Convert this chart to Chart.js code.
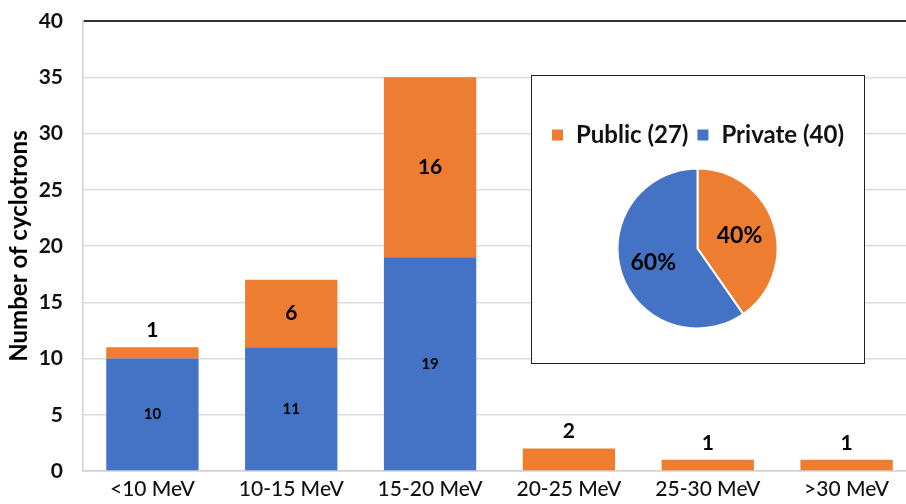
<!DOCTYPE html>
<html>
<head>
<meta charset="utf-8">
<script src="https://cdn.jsdelivr.net/npm/chart.js@4.4.1/dist/chart.umd.min.js"></script>
<style>
  html, body { margin: 0; padding: 0; background: #fff; overflow: hidden; width: 906px; height: 504px; }
  #wrap { position: absolute; left: 0; top: 0; width: 916px; height: 504px; }
  #pieBox { position: absolute; left: 531px; top: 75px; width: 334px; height: 289px; border: 1.5px solid #222; box-sizing: border-box; background: #fff; }
</style>
</head>
<body>
<div id="wrap"><canvas id="bar" width="916" height="504"></canvas></div>
<div id="pieBox"><canvas id="pie" width="331" height="286"></canvas></div>
<script>
const categories = ['<10 MeV', '10-15 MeV', '15-20 MeV', '20-25 MeV', '25-30 MeV', '>30 MeV'];
const privateValues = [10, 11, 19, 0, 0, 0];
const publicValues = [1, 6, 16, 2, 1, 1];
const yTicks = [0, 5, 10, 15, 20, 25, 30, 35, 40];
const pieLabels = ['Public (27)', 'Private (40)'];
const pieValues = [27, 40];
const piePercentLabels = ['40%', '60%'];

const BLUE = '#4472C4';
const ORANGE = '#ED7D31';
Chart.defaults.font.family = 'Lato, "Open Sans", sans-serif';
Chart.defaults.color = '#000';

const barLabelPlugin = {
  id: 'barLabels',
  afterDatasetsDraw(chart) {
    const ctx = chart.ctx;
    ctx.save();
    ctx.textAlign = 'center';
    ctx.textBaseline = 'middle';
    ctx.fillStyle = '#000';
    chart.data.datasets.forEach((ds, di) => {
      const meta = chart.getDatasetMeta(di);
      meta.data.forEach((el, i) => {
        const v = ds.data[i];
        if (!v) return;
        const top = Math.min(el.y, el.base);
        const bottom = Math.max(el.y, el.base);
        const h = bottom - top;
        ctx.font = (di === 0 ? 'bold 15px ' : 'bold 21px ') + Chart.defaults.font.family;
        let y = h > 30 ? (top + bottom) / 2 : top - 17;
        ctx.fillText(String(v), el.x, y);
      });
    });
    ctx.restore();
  }
};

new Chart(document.getElementById('bar'), {
  type: 'bar',
  data: {
    labels: categories,
    datasets: [
      { label: 'Private', data: privateValues, backgroundColor: BLUE, categoryPercentage: 1, barPercentage: 0.665 },
      { label: 'Public', data: publicValues, backgroundColor: ORANGE, categoryPercentage: 1, barPercentage: 0.665 }
    ]
  },
  options: {
    responsive: false,
    animation: false,
    devicePixelRatio: 1,
    layout: { padding: { top: 21, right: 0, left: 0, bottom: 0 } },
    plugins: { legend: { display: false }, tooltip: { enabled: false } },
    scales: {
      x: {
        stacked: true,
        grid: { display: false, drawTicks: false },
        border: { color: '#d0d0d0', width: 1.5 },
        ticks: { font: { size: 21, weight: '500' }, color: '#111', padding: 6, maxRotation: 0 },
        afterFit(s) { s.height = 33; }
      },
      y: {
        stacked: true,
        min: 0, max: 40,
        afterBuildTicks(s) { s.ticks = yTicks.map(v => ({ value: v })); },
        grid: {
          drawTicks: false,
          color: c => (c.tick && c.tick.value === 40) ? '#333' : '#dcdcdc',
          lineWidth: c => (c.tick && c.tick.value === 40) ? 2 : 1.5
        },
        border: { color: '#d0d0d0', width: 1.5 },
        ticks: { font: { size: 21, weight: 'bold' }, color: '#111', padding: 20 },
        title: { display: true, text: 'Number of cyclotrons', font: { size: 24, weight: 'bold' }, color: '#000', padding: { top: 5, bottom: 0 } },
        afterFit(s) { s.width = 83; s.paddingTop = 0; s.paddingBottom = 0; }
      }
    }
  },
  plugins: [barLabelPlugin]
});

const pieLabelPlugin = {
  id: 'pieLabels',
  afterDatasetsDraw(chart) {
    const ctx = chart.ctx;
    const factors = [0.55, 0.58];
    ctx.save();
    ctx.textAlign = 'center';
    ctx.textBaseline = 'middle';
    ctx.fillStyle = '#000';
    ctx.font = 'bold 23px ' + Chart.defaults.font.family;
    chart.getDatasetMeta(0).data.forEach((arc, i) => {
      const mid = (arc.startAngle + arc.endAngle) / 2;
      const r = arc.outerRadius * factors[i];
      ctx.fillText(piePercentLabels[i], arc.x + Math.cos(mid) * r, arc.y + Math.sin(mid) * r);
    });
    ctx.restore();
  }
};

new Chart(document.getElementById('pie'), {
  type: 'pie',
  data: {
    labels: pieLabels,
    datasets: [{ data: pieValues, backgroundColor: [ORANGE, BLUE], borderColor: '#fff', borderWidth: 2, radius: 80 }]
  },
  options: {
    responsive: false,
    animation: false,
    devicePixelRatio: 1,
    layout: { padding: { top: 39, bottom: 22, left: 0, right: 0 } },
    plugins: {
      tooltip: { enabled: false },
      legend: {
        position: 'top',
        labels: { boxWidth: 13, boxHeight: 13, padding: 8, color: '#111', font: { size: 24, weight: 'bold' } }
      }
    }
  },
  plugins: [pieLabelPlugin]
});
</script>
</body>
</html>
